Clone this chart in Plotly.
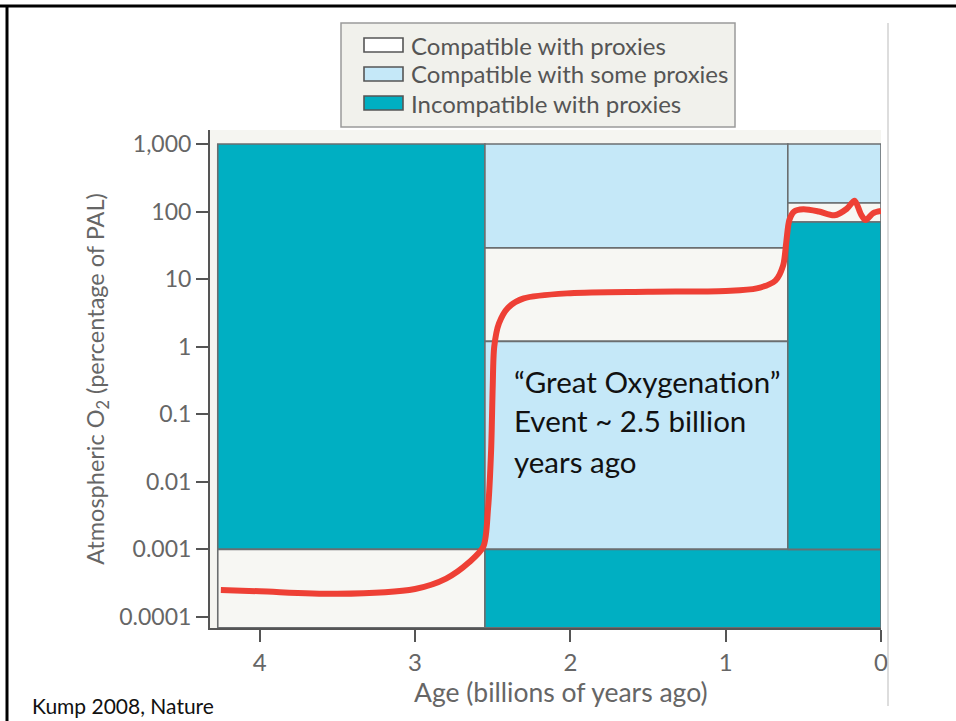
import plotly.graph_objects as go

# Proxy-compatibility regions: age span (Gyr ago), O2 span (% PAL), class
region_age_start = [4.27, 4.27, 2.55, 2.55, 2.55, 2.55, 0.6, 0.6, 0.6]
region_age_end = [2.55, 2.55, 0.6, 0.6, 0.6, 0.0, 0.0, 0.0, 0.0]
region_o2_low = [0.001, 0.000069, 29, 1.2, 0.001, 0.000069, 134, 70, 0.001]
region_o2_high = [1000, 0.001, 1000, 29, 1.2, 0.001, 1000, 134, 70]
region_class = ["incompatible", "compatible", "some", "compatible", "some",
                "incompatible", "some", "compatible", "incompatible"]

# Estimated atmospheric O2 history
age = [4.25, 4.0, 3.5, 3.0, 2.8, 2.65, 2.56, 2.53, 2.51, 2.5, 2.49, 2.46,
       2.4, 2.3, 2.0, 1.5, 1.0, 0.8, 0.68, 0.63, 0.61, 0.59, 0.56, 0.5,
       0.4, 0.3, 0.22, 0.17, 0.13, 0.1, 0.05, 0.0]
o2 = [0.00025, 0.00024, 0.00022, 0.00026, 0.00037, 0.00065, 0.0011, 0.004,
      0.03, 0.25, 1.0, 2.2, 3.8, 5.2, 6.2, 6.5, 6.7, 7.3, 9.5, 16, 35, 75,
      100, 108, 100, 88, 110, 145, 92, 75, 95, 102]

class_fill = {"compatible": "#f7f7f3", "some": "#c5e8f8", "incompatible": "#00afc2"}
legend_labels = [("compatible", "Compatible with proxies"),
                 ("some", "Compatible with some proxies"),
                 ("incompatible", "Incompatible with proxies")]

y_ticks = [0.0001, 0.001, 0.01, 0.1, 1, 10, 100, 1000]
y_tick_text = ["0.0001", "0.001", "0.01", "0.1", "1", "10", "100", "1,000"]
x_ticks = [4, 3, 2, 1, 0]

W, H = 956, 721
ML, MR, MT, MB = 210, 75, 130, 93
PW, PH = W - ML - MR, H - MT - MB


def px(x):
    return (x - ML) / PW


def py(y):
    return (H - MB - y) / PH


fig = go.Figure()

for a0, a1, lo, hi, cls in zip(region_age_start, region_age_end,
                               region_o2_low, region_o2_high, region_class):
    fig.add_trace(go.Scatter(
        x=[a0, a1, a1, a0, a0], y=[lo, lo, hi, hi, lo],
        mode="lines", fill="toself", fillcolor=class_fill[cls],
        line=dict(color="#6b6e70", width=1.6),
        hoverinfo="skip", showlegend=False))

fig.add_trace(go.Scatter(
    x=age, y=o2, mode="lines",
    line=dict(color="#ee4035", width=6, shape="spline", smoothing=0.8),
    hoverinfo="skip", showlegend=False))

shapes = []
annotations = []

# legend panel
shapes.append(dict(type="rect", xref="paper", yref="paper",
                   x0=px(341), x1=px(735), y0=py(127), y1=py(23),
                   fillcolor="#f1f1ec", line=dict(color="#9a9a9a", width=1.5),
                   layer="above"))
for i, (cls, label) in enumerate(legend_labels):
    cy = 45 + i * 29
    shapes.append(dict(type="rect", xref="paper", yref="paper",
                       x0=px(364), x1=px(403), y0=py(cy + 7), y1=py(cy - 7),
                       fillcolor="#ffffff" if cls == "compatible" else class_fill[cls],
                       line=dict(color="#555555", width=1.6), layer="above"))
    annotations.append(dict(xref="paper", yref="paper", x=px(409), y=py(cy),
                            text=label, showarrow=False, xanchor="left",
                            yanchor="middle",
                            font=dict(family="Lato", size=24, color="#555555")))

# slide frame and image edge
shapes.append(dict(type="line", xref="paper", yref="paper",
                   x0=px(0), x1=px(956), y0=py(6), y1=py(6),
                   line=dict(color="#000000", width=3), layer="above"))
shapes.append(dict(type="line", xref="paper", yref="paper",
                   x0=px(7), x1=px(7), y0=py(6), y1=py(721),
                   line=dict(color="#000000", width=3), layer="above"))
shapes.append(dict(type="line", xref="paper", yref="paper",
                   x0=px(888), x1=px(888), y0=py(23), y1=py(706),
                   line=dict(color="#bbbbbb", width=1), layer="above"))

# event note
note_lines = ["“Great Oxygenation”", "Event ~ 2.5 billion", "years ago"]
for i, line in enumerate(note_lines):
    annotations.append(dict(xref="paper", yref="paper", x=px(512), y=py(381 + 40 * i),
                            text=line, showarrow=False, xanchor="left",
                            yanchor="middle",
                            font=dict(family="Lato", size=29.5, color="#111111")))

# x-axis title
annotations.append(dict(xref="paper", yref="paper", x=px(560), y=py(692),
                        text="Age (billions of years ago)", showarrow=False,
                        xanchor="center", yanchor="middle",
                        font=dict(family="Lato", size=26.5, color="#666666")))

annotations.append(dict(xref="paper", yref="paper", x=px(30), y=py(705),
                        text="Kump 2008, Nature", showarrow=False, xanchor="left",
                        yanchor="middle",
                        font=dict(family="Lato", size=21, color="#111111")))

fig.update_layout(
    width=W, height=H,
    margin=dict(l=ML, r=MR, t=MT, b=MB),
    paper_bgcolor="#ffffff", plot_bgcolor="#f5f5f1",
    showlegend=False, shapes=shapes, annotations=annotations,
    font=dict(family="Lato", color="#666666"),
)
fig.update_xaxes(
    range=[4.32, 0], tickvals=x_ticks, ticktext=[str(t) for t in x_ticks],
    ticks="outside", ticklen=12, tickwidth=1.5, tickcolor="#555555",
    showline=True, linecolor="#555555", linewidth=2, showgrid=False,
    zeroline=False, tickfont=dict(size=24, color="#666666"),
)
fig.update_yaxes(
    type="log", range=[-4.163, 3.207], tickvals=y_ticks, ticktext=y_tick_text,
    ticks="outside", ticklen=12, tickwidth=1.5, tickcolor="#555555",
    showline=True, linecolor="#555555", linewidth=2, showgrid=False,
    zeroline=False, tickfont=dict(size=23, color="#666666"),
    title=dict(text="Atmospheric O<sub>2</sub> (percentage of PAL)", standoff=8,
               font=dict(size=23.5, color="#666666")),
)

fig.write_html("out.html")
